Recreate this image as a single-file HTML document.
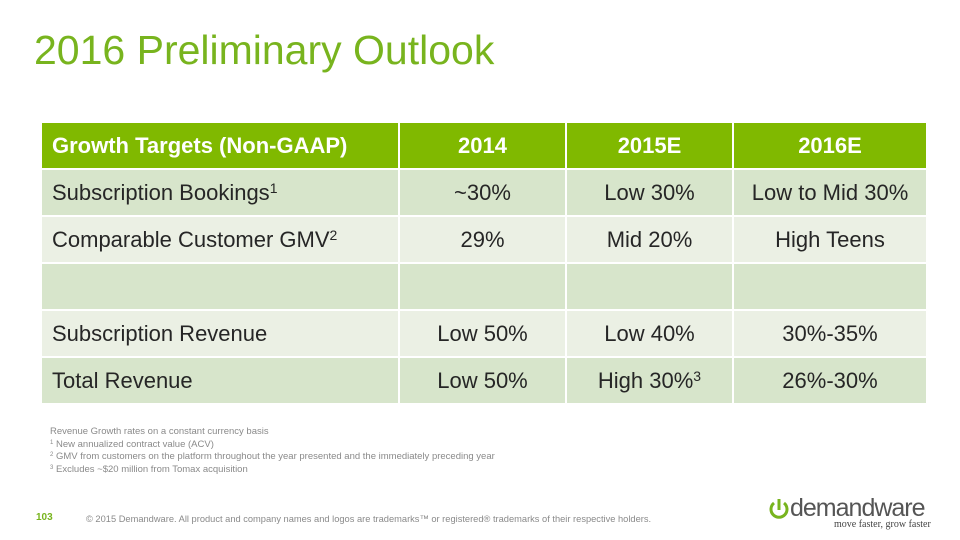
<!DOCTYPE html>
<html><head><meta charset="utf-8"><style>
body{margin:0;width:960px;height:540px;background:#fff;position:relative;overflow:hidden;font-family:"Liberation Sans",sans-serif}
.title{position:absolute;left:34px;top:27px;font-size:41px;color:#78b41e;white-space:nowrap}
table{position:absolute;left:40px;top:121px;width:886px;border-collapse:collapse;table-layout:fixed}
td,th{height:45px;font-size:22px;color:#262626;text-align:center;padding:0;border:2px solid #fff;white-space:nowrap}
th{background:#80b900;color:#fff;font-weight:bold;height:45px}
td:first-child,th:first-child{text-align:left;padding-left:10px}
tr.o td{background:#d7e5cb}tr.e td{background:#ebf0e4}
sup{font-size:14px;vertical-align:7px}
.notes{position:absolute;left:50px;top:426px;font-size:9.5px;color:#8a8a8a;line-height:11.5px}
.notes sup{font-size:6px;vertical-align:3px}
.pg{position:absolute;left:36px;top:512px;font-size:10px;font-weight:bold;color:#78b41e}
.copy{position:absolute;left:86px;top:514px;font-size:9.3px;color:#8a8a8a;white-space:nowrap}
.logo{position:absolute;left:790px;top:494px;font-size:25px;color:#555;letter-spacing:-1px}
.tag{position:absolute;left:834px;top:519px;font-family:"Liberation Serif",serif;font-size:10px;color:#444}
</style></head><body>
<div class="title">2016 Preliminary Outlook</div>
<table>
<colgroup><col style="width:358px"><col style="width:167px"><col style="width:167px"><col style="width:194px"></colgroup>
<tr><th>Growth Targets (Non-GAAP)</th><th>2014</th><th>2015E</th><th>2016E</th></tr>
<tr class="o"><td>Subscription Bookings<sup>1</sup></td><td>~30%</td><td>Low 30%</td><td>Low to Mid 30%</td></tr>
<tr class="e"><td>Comparable Customer GMV<sup>2</sup></td><td>29%</td><td>Mid 20%</td><td>High Teens</td></tr>
<tr class="o"><td></td><td></td><td></td><td></td></tr>
<tr class="e"><td>Subscription Revenue</td><td>Low 50%</td><td>Low 40%</td><td>30%-35%</td></tr>
<tr class="o"><td>Total Revenue</td><td>Low 50%</td><td>High 30%<sup>3</sup></td><td>26%-30%</td></tr>
</table>
<div class="notes">Revenue Growth rates on a constant currency basis<br><sup>1</sup> New annualized contract value (ACV)<br><sup>2</sup> GMV from customers on the platform throughout the year presented and the immediately preceding year<br><sup>3</sup> Excludes ~$20 million from Tomax acquisition</div>
<div class="pg">103</div>
<div class="copy">© 2015 Demandware. All product and company names and logos are trademarks™ or registered® trademarks of their respective holders.</div>
<svg style="position:absolute;left:768px;top:498px" width="22" height="24"><path d="M6 5 A8 8 0 1 0 16 5" fill="none" stroke="#78b41e" stroke-width="3"/><line x1="11" y1="1" x2="11" y2="12" stroke="#78b41e" stroke-width="3"/></svg>
<div class="logo">demandware</div>
<div class="tag">move faster, grow faster</div>
</body></html>
